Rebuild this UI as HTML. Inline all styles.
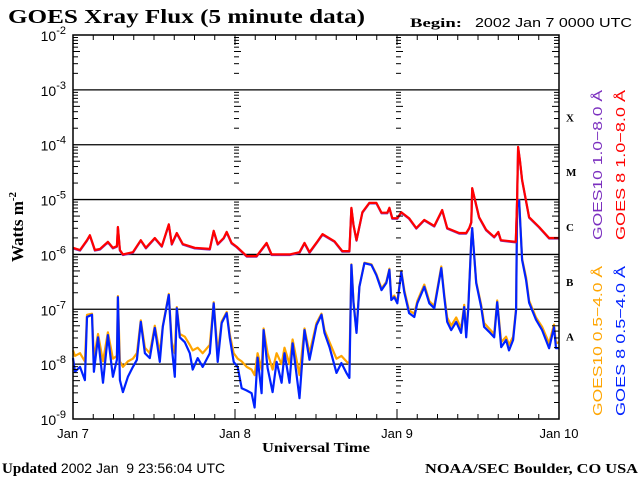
<!DOCTYPE html>
<html><head><meta charset="utf-8"><style>
body{margin:0;background:#fff;width:640px;height:480px;overflow:hidden}
svg{display:block}
.sf{font-family:"Liberation Serif",serif;font-weight:bold}
.ss{font-family:"Liberation Sans",sans-serif}
</style></head><body>
<svg id="chart" width="640" height="480" viewBox="0 0 640 480" xmlns="http://www.w3.org/2000/svg">
<text class="sf" x="8" y="23" font-size="20" textLength="357" lengthAdjust="spacingAndGlyphs">GOES Xray Flux (5 minute data)</text>
<text class="sf" x="410" y="27" font-size="13" textLength="52" lengthAdjust="spacingAndGlyphs">Begin:</text>
<text class="ss" x="475" y="27" font-size="13" textLength="157" lengthAdjust="spacingAndGlyphs">2002 Jan 7 0000 UTC</text>
<text class="sf" font-size="17" transform="translate(23,227) rotate(-90)" text-anchor="middle">Watts m<tspan font-size="11" dy="-7">-2</tspan></text>
<text class="sf" x="262" y="452" font-size="14" textLength="108" lengthAdjust="spacingAndGlyphs">Universal Time</text>
<text x="2" y="473" font-size="15"><tspan class="sf">Updated</tspan><tspan class="ss" font-size="14" xml:space="preserve"> 2002 Jan  9 23:56:04 UTC</tspan></text>
<text class="sf" x="425" y="473" font-size="14" textLength="213" lengthAdjust="spacingAndGlyphs">NOAA/SEC Boulder, CO USA</text>
<g id="grid"></g><g id="series"></g><g id="axes"></g>
<g font-size="13" class="ss">
<text fill="#7b2fbf" transform="translate(602,240) rotate(-90)" textLength="150" lengthAdjust="spacingAndGlyphs">GOES10 1.0−8.0 Å</text>
<text fill="#ff0000" transform="translate(625,240) rotate(-90)" textLength="150" lengthAdjust="spacingAndGlyphs">GOES 8 1.0−8.0 Å</text>
<text fill="#ffa500" transform="translate(602,416) rotate(-90)" textLength="150" lengthAdjust="spacingAndGlyphs">GOES10 0.5−4.0 Å</text>
<text fill="#0022ff" transform="translate(625,416) rotate(-90)" textLength="150" lengthAdjust="spacingAndGlyphs">GOES 8 0.5−4.0 Å</text>
</g>
</svg>
<script>
const yTickExps=[-2,-3,-4,-5,-6,-7,-8,-9];
const dayLabels=["Jan 7","Jan 8","Jan 9","Jan 10"];
const classLabels=["X","M","C","B","A"];
const hoursLong=[0,1.03,2.07,2.51,3.25,4.0,5.17,5.91,6.5,6.65,6.95,7.39,8.87,10.05,10.8,12.12,13.16,14.19,14.64,15.38,16.26,18.04,20.26,20.85,21.44,22.33,22.77,23.5,24.25,25.73,27.2,28.68,29.42,32.1,33.56,34.3,35.04,36.22,36.96,38.74,39.9,40.95,41.25,41.55,42.0,42.88,43.9,44.95,45.7,46.57,46.87,47.3,48.05,48.64,49.8,50.86,52.04,53.52,54.7,55.44,57.22,58.25,58.7,59.0,59.14,60.17,61.2,62.4,63.0,63.4,65.6,65.8,65.94,66.2,66.53,67.57,69.05,70.53,72];
const goes8Long=[-5.88,-5.92,-5.74,-5.65,-5.92,-5.9,-5.77,-5.88,-5.85,-5.5,-5.92,-6.0,-5.96,-5.74,-5.88,-5.7,-5.85,-5.45,-5.81,-5.61,-5.81,-5.88,-5.9,-5.57,-5.81,-5.7,-5.59,-5.79,-5.86,-6.03,-6.03,-5.79,-6.0,-6.0,-5.96,-5.79,-5.96,-5.76,-5.63,-5.76,-5.94,-5.94,-5.15,-5.46,-5.74,-5.23,-5.06,-5.06,-5.24,-5.24,-5.15,-5.34,-5.34,-5.23,-5.34,-5.52,-5.37,-5.48,-5.19,-5.52,-5.61,-5.61,-5.52,-5.41,-4.79,-5.32,-5.55,-5.68,-5.59,-5.74,-5.77,-5.01,-4.04,-4.28,-4.64,-5.32,-5.5,-5.7,-5.7];
const goes10Long=[-5.89,-5.93,-5.75,-5.66,-5.93,-5.91,-5.78,-5.89,-5.86,-5.51,-5.93,-6.01,-5.97,-5.75,-5.89,-5.71,-5.86,-5.46,-5.82,-5.62,-5.82,-5.89,-5.91,-5.58,-5.82,-5.71,-5.6,-5.8,-5.87,-6.04,-6.04,-5.8,-6.01,-6.01,-5.97,-5.8,-5.97,-5.77,-5.64,-5.77,-5.95,-5.95,-5.16,-5.47,-5.75,-5.24,-5.07,-5.07,-5.25,-5.25,-5.16,-5.35,-5.35,-5.24,-5.35,-5.53,-5.38,-5.49,-5.2,-5.53,-5.62,-5.62,-5.53,-5.42,-4.8,-5.33,-5.56,-5.69,-5.6,-5.75,-5.78,-5.02,-4.05,-4.29,-4.65,-5.33,-5.51,-5.71,-5.71];
const hoursShort=[0,0.3,1.03,1.77,2.07,2.81,3.1,3.7,4.44,5.17,5.91,6.5,6.65,6.95,7.39,8.13,8.87,9.46,10.05,10.65,11.38,12.12,12.86,13.3,14.19,14.64,15.08,15.38,15.82,16.56,17.3,17.74,18.48,19.22,20.26,20.85,21.44,22.03,22.77,23.21,23.8,24.4,24.99,25.73,26.46,26.9,27.35,27.94,28.24,28.83,29.57,30.16,30.9,31.34,32.08,32.53,33.56,34.3,35.04,36.08,36.81,37.26,38.0,39.03,39.77,40.51,40.95,41.25,41.55,42.0,42.43,43.17,44.2,44.95,45.7,46.42,46.87,47.16,47.6,48.05,48.64,49.09,49.8,50.56,51.0,52.04,52.78,53.52,54.56,55.0,55.44,56.03,56.77,57.5,57.96,58.25,58.55,59.0,59.14,59.73,60.47,60.91,61.65,62.4,62.84,63.43,64.17,64.6,65.2,65.64,65.8,66.09,66.53,67.12,67.57,68.6,69.5,70.53,71.26,71.56,72];
const goes8Short=[-7.89,-8.14,-8.05,-8.29,-7.14,-7.1,-8.14,-7.51,-8.34,-7.47,-8.23,-7.92,-6.78,-8.29,-8.51,-8.23,-8.05,-7.92,-7.23,-7.8,-7.89,-7.34,-7.96,-7.32,-6.74,-7.69,-8.23,-6.98,-7.51,-7.6,-7.8,-8.1,-7.89,-8.05,-7.8,-6.89,-7.96,-7.25,-7.07,-7.51,-7.96,-8.05,-8.44,-8.48,-8.53,-8.79,-7.88,-8.53,-7.38,-8.07,-8.51,-7.96,-8.34,-7.8,-8.34,-7.62,-8.62,-7.38,-7.92,-7.29,-7.1,-7.43,-7.69,-8.16,-7.98,-8.16,-8.25,-6.19,-6.88,-7.43,-6.59,-6.16,-6.19,-6.38,-6.65,-6.52,-6.28,-6.83,-6.78,-6.89,-6.32,-6.7,-7.07,-7.14,-6.89,-6.59,-6.89,-6.98,-6.25,-6.78,-7.23,-7.38,-7.23,-7.43,-6.96,-7.51,-7.01,-5.74,-5.52,-6.52,-6.96,-7.32,-7.41,-7.51,-6.87,-7.69,-7.56,-7.75,-7.56,-7.01,-5.13,-5.01,-6.1,-6.47,-6.88,-7.19,-7.38,-7.71,-7.33,-7.71,-7.71];
const goes10Short=[-7.75,-7.85,-7.8,-7.95,-7.1,-7.08,-7.9,-7.45,-7.95,-7.42,-7.9,-7.85,-6.76,-7.95,-8.05,-7.95,-7.9,-7.8,-7.2,-7.7,-7.8,-7.3,-7.8,-7.3,-6.72,-7.6,-7.8,-6.96,-7.45,-7.5,-7.65,-7.75,-7.7,-7.8,-7.65,-6.87,-7.8,-7.22,-7.05,-7.45,-7.8,-7.9,-7.95,-8.05,-8.1,-8.2,-7.8,-8.1,-7.35,-7.8,-8.1,-7.8,-8.0,-7.7,-8.0,-7.55,-8.2,-7.35,-7.8,-7.25,-7.08,-7.38,-7.6,-7.9,-7.85,-7.95,-8.0,-6.18,-6.86,-7.4,-6.58,-6.15,-6.18,-6.36,-6.62,-6.5,-6.26,-6.8,-6.75,-6.86,-6.3,-6.66,-7.02,-7.08,-6.85,-6.55,-6.85,-6.94,-6.22,-6.74,-7.15,-7.3,-7.15,-7.35,-6.92,-7.42,-6.98,-5.73,-5.52,-6.5,-6.92,-7.25,-7.35,-7.45,-6.84,-7.6,-7.5,-7.65,-7.5,-6.98,-5.13,-5.0,-6.08,-6.42,-6.84,-7.15,-7.32,-7.62,-7.28,-7.62,-7.6];

const L=73,R=559,T=35,B=419;
const xS=h=>L+(R-L)*h/72;
const yS=e=>T+(B-T)*(-2-e)/7;
const NS='http://www.w3.org/2000/svg';
function mk(tag,attrs,parent){const el=document.createElementNS(NS,tag);for(const k in attrs)el.setAttribute(k,attrs[k]);parent.appendChild(el);return el;}
const grid=document.getElementById('grid'),axes=document.getElementById('axes'),ser=document.getElementById('series');
yTickExps.forEach((e,i)=>{
  if(i>0&&i<yTickExps.length-1){const l=mk('line',{x1:L,x2:R,y1:yS(e),y2:yS(e),stroke:'#000','stroke-width':1.3},grid);
  
  }
  const t=mk('text',{x:66,y:yS(e)+6,'font-size':14,'text-anchor':'end','font-family':'Liberation Sans, sans-serif'},axes);
  
  
  t.innerHTML='10<tspan font-size="11" dy="-7">'+e+'</tspan>';
});
const xsCols=[[L,1],[xS(24),0],[xS(48),0],[R,-1]];
for(let d=-9;d<-2;d++){for(let m=2;m<=9;m++){const y=yS(d+Math.log10(m));
  xsCols.forEach(([x,dir])=>{const len=(m===5)?7:5;
    const a=dir===1?x:dir===-1?x-len:x-1,b=dir===1?x+len:dir===-1?x:x+len-1;
    const l=mk('line',{x1:a,x2:b,y1:y,y2:y,stroke:'#000','stroke-width':1},axes);
    
    });}}
for(let h=0;h<=72;h+=3){const x=xS(h),len=h%24===0?10:5;
  [[B,B-len],[T,T+len]].forEach(([a,b])=>{const l=mk('line',{x1:x,x2:x,y1:a,y2:b,stroke:'#000','stroke-width':1},axes);
  
  });}
dayLabels.forEach((d,i)=>{const t=mk('text',{x:xS(i*24),y:438,'font-size':13,'text-anchor':'middle','font-family':'Liberation Sans, sans-serif'},axes);
  
  
  t.textContent=d;});
classLabels.forEach((c,i)=>{const t=mk('text',{x:566,y:yS(-3.5-i)+4,'font-size':11,'font-weight':'bold','font-family':'Liberation Serif, serif'},axes);
  
  
  t.textContent=c;});
const frame=mk('rect',{x:L,y:T,width:R-L,height:B-T,fill:'none',stroke:'#000','stroke-width':1.5},axes);


function line(hs,vs,color,name){const pts=hs.map((h,i)=>xS(h).toFixed(1)+','+yS(vs[i]).toFixed(1)).join(' ');
  const p=mk('polyline',{points:pts,fill:'none',stroke:color,'stroke-width':2.2,'stroke-linejoin':'round'},ser);
  
  }
line(hoursShort,goes10Short,'#ffa500','goes10-short-line');
line(hoursShort,goes8Short,'#0022ff','goes8-short-line');
line(hoursLong,goes10Long,'#7b2fbf','goes10-long-line');
line(hoursLong,goes8Long,'#ff0000','goes8-long-line');
</script>
</body></html>
